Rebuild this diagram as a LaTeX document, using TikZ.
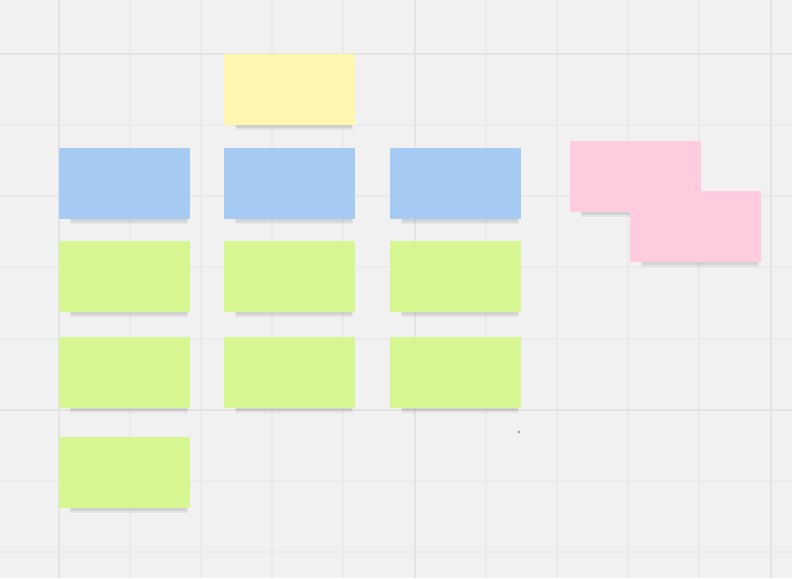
\documentclass[tikz,border=0pt]{standalone}
\usetikzlibrary{shadows}
\definecolor{boardbg}{HTML}{F1F1F1}
\definecolor{gridminor}{HTML}{EAEAEA}
\definecolor{gridmajor}{HTML}{E3E3E3}
\definecolor{noteyellow}{HTML}{FFF7B0}
\definecolor{noteblue}{HTML}{A5CBF2}
\definecolor{notegreen}{HTML}{D6F692}
\definecolor{notepink}{HTML}{FFCCDF}
\tikzset{
  note/.style={anchor=north west, minimum width=131pt, minimum height=71pt, inner sep=0pt,
    general shadow={fill=black, opacity=0.05, rounded corners=4pt, shadow scale=0.9, shadow yshift=-9.5pt, shadow xshift=5pt},
    general shadow={fill=black, opacity=0.08, rounded corners=3pt, shadow scale=0.88, shadow yshift=-8pt, shadow xshift=5pt},
    general shadow={fill=black, opacity=0.14, rounded corners=2pt, shadow scale=0.85, shadow yshift=-6.5pt, shadow xshift=5pt}},
}
\begin{document}
\begin{tikzpicture}[x=1pt,y=-1pt]
\fill[boardbg] (0,0) rectangle (792,578);
\useasboundingbox (0,0) rectangle (792,578);

% grid
\foreach \gx in {130,201,272,343,486,557,628,699}
  \draw[gridminor,line width=1.2pt] (\gx,0) -- (\gx,578);
\foreach \gy in {125,196,267,339,481,552}
  \draw[gridminor,line width=1.2pt] (0,\gy) -- (792,\gy);
\foreach \gx in {59,415,771}
  \draw[gridmajor,line width=2pt] (\gx,0) -- (\gx,578);
\foreach \gy in {54,410}
  \draw[gridmajor,line width=2pt] (0,\gy) -- (792,\gy);

% top note
\node[note,fill=noteyellow] (y1) at (224,54) {};

% blue row
\node[note,fill=noteblue] (b1) at (59,148) {};
\node[note,fill=noteblue] (b2) at (224,148) {};
\node[note,fill=noteblue] (b3) at (390,148) {};

% green notes
\node[note,fill=notegreen] (g1) at (59,241) {};
\node[note,fill=notegreen] (g2) at (224,241) {};
\node[note,fill=notegreen] (g3) at (390,241) {};
\node[note,fill=notegreen] (g4) at (59,337) {};
\node[note,fill=notegreen] (g5) at (224,337) {};
\node[note,fill=notegreen] (g6) at (390,337) {};
\node[note,fill=notegreen] (g7) at (59,437) {};

% pink pair
\node[note,fill=notepink] (p1) at (570,141) {};
\node[note,fill=notepink] (p2) at (630,191) {};

% stray dot
\fill[black!70] (519,432) circle (0.9pt);
\end{tikzpicture}
\end{document}
